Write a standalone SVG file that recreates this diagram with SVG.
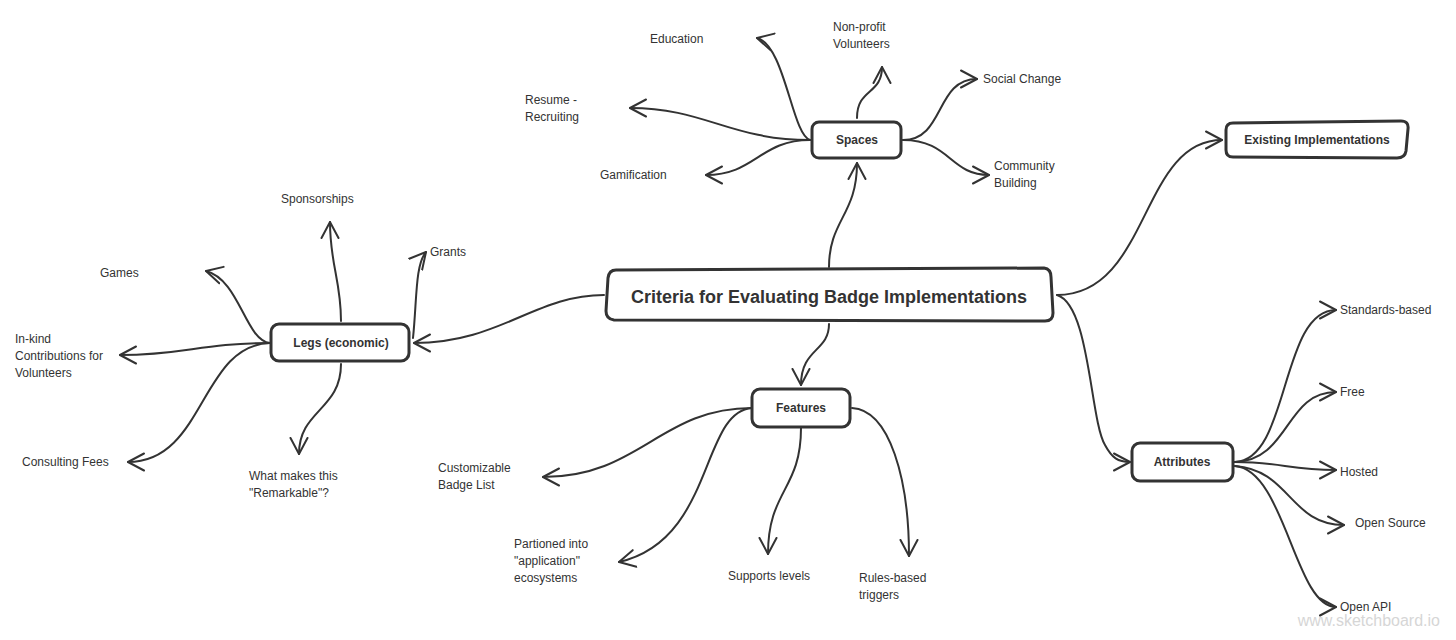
<svg xmlns="http://www.w3.org/2000/svg" width="1456" height="640" viewBox="0 0 1456 640">
<defs>
<marker id="arr" viewBox="0 0 20 20" refX="17" refY="10" markerWidth="20" markerHeight="20" markerUnits="userSpaceOnUse" orient="auto">
<path d="M1,1.5 L17,10 L1,18.5" fill="none" stroke="#333" stroke-width="2" stroke-linecap="round" stroke-linejoin="round"/>
</marker>
</defs>
<style>
.bg{fill:#fff}
.node{fill:#fff;stroke:#333;stroke-width:3;stroke-linejoin:round}
.title{font-family:"Liberation Sans",Arial,sans-serif;font-weight:bold;font-size:18px;fill:#333}
.nt{font-family:"Liberation Sans",Arial,sans-serif;font-weight:bold;font-size:12px;fill:#333}
.lt{font-family:"Liberation Sans",Arial,sans-serif;font-size:12px;fill:#333}
.c{fill:none;stroke:#333;stroke-width:2;stroke-linecap:round;marker-end:url(#arr)}
.wm{font-family:"Liberation Sans",Arial,sans-serif;font-size:16px;fill:#d6d6d6}
</style>
<rect class="bg" x="0" y="0" width="1456" height="640"/>
<g id="connectors">
<path class="c" d="M829,267 C829,220 857,215 857,163"/>
<path class="c" d="M604,295 C535,295 500,343 414,343"/>
<path class="c" d="M829,324 C829,352 801,348 801,385"/>
<path class="c" d="M1057,295 C1150,295 1140,140 1222,140"/>
<path class="c" d="M1057,295 C1090,305 1090,420 1105,445 C1112,458 1118,462 1130,462"/>
<path class="c" d="M810,140 C792,135 785,45 757,38"/>
<path class="c" d="M810,140 C730,140 705,108 630,108"/>
<path class="c" d="M810,140 C760,140 755,175 706,175"/>
<path class="c" d="M857,118 C857,88 882,95 882,67"/>
<path class="c" d="M903,140 C945,140 935,79 977,79"/>
<path class="c" d="M903,140 C950,140 950,175 989,175"/>
<path class="c" d="M270,343 C245,340 240,280 206,271"/>
<path class="c" d="M270,343 C200,343 185,355 120,355"/>
<path class="c" d="M270,343 C200,345 205,462 128,462"/>
<path class="c" d="M341,321 C341,280 330,265 330,222"/>
<path class="c" d="M413,338 C417,300 415,265 426,252"/>
<path class="c" d="M341,364 C341,410 299,410 299,454"/>
<path class="c" d="M752,408 C660,408 640,477 543,477"/>
<path class="c" d="M752,408 C700,412 715,540 619,562"/>
<path class="c" d="M801,428 C801,490 768,490 768,554"/>
<path class="c" d="M852,408 C890,410 909,480 909,556"/>
<path class="c" d="M1235,462 C1290,460 1280,310 1336,310"/>
<path class="c" d="M1235,462 C1290,460 1285,392 1336,392"/>
<path class="c" d="M1235,462 C1280,462 1290,470 1336,470"/>
<path class="c" d="M1235,466 C1290,470 1290,525 1344,525"/>
<path class="c" d="M1235,466 C1285,470 1295,607 1336,607"/>
</g>
<g id="central">
<path class="node" d="M616,270 L1044,268 Q1051,269 1051,277 L1053,313 Q1053,321 1045,321 L614,320 Q606,319 606,311 L608,278 Q609,270 616,270 Z"/>
<text class="title" x="829" y="297" text-anchor="middle" dominant-baseline="central">Criteria for Evaluating Badge Implementations</text>
</g>
<g id="spaces">
<rect class="node" x="812" y="122" width="89" height="36" rx="7"/>
<text class="nt" x="857" y="140" text-anchor="middle" dominant-baseline="central">Spaces</text>
</g>
<g id="existing">
<path class="node" d="M1233,123 L1401,121 Q1409,121 1408,129 L1406,151 Q1405,158 1397,158 L1233,157 Q1226,157 1226,150 L1226,130 Q1226,123 1233,123 Z"/>
<text class="nt" x="1317" y="140" text-anchor="middle" dominant-baseline="central">Existing Implementations</text>
</g>
<g id="legs">
<rect class="node" x="271" y="324" width="138" height="37" rx="8"/>
<text class="nt" x="341" y="343" text-anchor="middle" dominant-baseline="central">Legs (economic)</text>
</g>
<g id="features">
<rect class="node" x="752" y="389" width="98" height="38" rx="8"/>
<text class="nt" x="801" y="408" text-anchor="middle" dominant-baseline="central">Features</text>
</g>
<g id="attributes">
<rect class="node" x="1132" y="443" width="101" height="38" rx="8"/>
<text class="nt" x="1182" y="462" text-anchor="middle" dominant-baseline="central">Attributes</text>
</g>
<g id="leaf-education"><text class="lt" x="650" y="39" dominant-baseline="central">Education</text></g>
<g id="leaf-nonprofit"><text class="lt" x="833" y="27" dominant-baseline="central">Non-profit</text><text class="lt" x="833" y="44" dominant-baseline="central">Volunteers</text></g>
<g id="leaf-social"><text class="lt" x="983" y="79" dominant-baseline="central">Social Change</text></g>
<g id="leaf-community"><text class="lt" x="994" y="166" dominant-baseline="central">Community</text><text class="lt" x="994" y="183" dominant-baseline="central">Building</text></g>
<g id="leaf-resume"><text class="lt" x="525" y="100" dominant-baseline="central">Resume -</text><text class="lt" x="525" y="117" dominant-baseline="central">Recruiting</text></g>
<g id="leaf-gamification"><text class="lt" x="600" y="175" dominant-baseline="central">Gamification</text></g>
<g id="leaf-sponsorships"><text class="lt" x="281" y="199" dominant-baseline="central">Sponsorships</text></g>
<g id="leaf-grants"><text class="lt" x="430" y="252" dominant-baseline="central">Grants</text></g>
<g id="leaf-games"><text class="lt" x="100" y="273" dominant-baseline="central">Games</text></g>
<g id="leaf-inkind"><text class="lt" x="15" y="339" dominant-baseline="central">In-kind</text><text class="lt" x="15" y="356" dominant-baseline="central">Contributions for</text><text class="lt" x="15" y="373" dominant-baseline="central">Volunteers</text></g>
<g id="leaf-consulting"><text class="lt" x="22" y="462" dominant-baseline="central">Consulting Fees</text></g>
<g id="leaf-remarkable"><text class="lt" x="249" y="476" dominant-baseline="central">What makes this</text><text class="lt" x="249" y="493" dominant-baseline="central">"Remarkable"?</text></g>
<g id="leaf-customizable"><text class="lt" x="438" y="468" dominant-baseline="central">Customizable</text><text class="lt" x="438" y="485" dominant-baseline="central">Badge List</text></g>
<g id="leaf-partioned"><text class="lt" x="514" y="544" dominant-baseline="central">Partioned into</text><text class="lt" x="514" y="561" dominant-baseline="central">"application"</text><text class="lt" x="514" y="578" dominant-baseline="central">ecosystems</text></g>
<g id="leaf-levels"><text class="lt" x="728" y="576" dominant-baseline="central">Supports levels</text></g>
<g id="leaf-rules"><text class="lt" x="859" y="578" dominant-baseline="central">Rules-based</text><text class="lt" x="859" y="595" dominant-baseline="central">triggers</text></g>
<g id="leaf-standards"><text class="lt" x="1340" y="310" dominant-baseline="central">Standards-based</text></g>
<g id="leaf-free"><text class="lt" x="1340" y="392" dominant-baseline="central">Free</text></g>
<g id="leaf-hosted"><text class="lt" x="1340" y="472" dominant-baseline="central">Hosted</text></g>
<g id="leaf-opensource"><text class="lt" x="1355" y="523" dominant-baseline="central">Open Source</text></g>
<g id="leaf-openapi"><text class="lt" x="1340" y="607" dominant-baseline="central">Open API</text></g>
<text class="wm" x="1440" y="620" text-anchor="end" dominant-baseline="central">www.sketchboard.io</text>
</svg>
